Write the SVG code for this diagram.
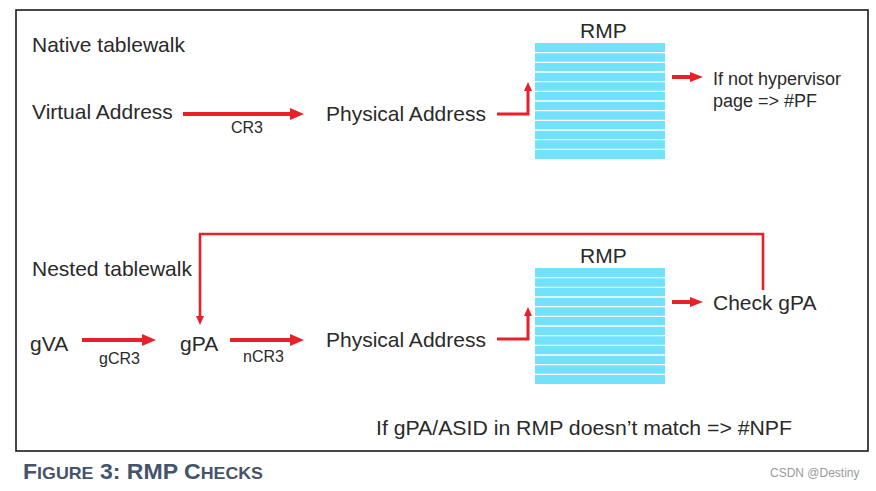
<svg xmlns="http://www.w3.org/2000/svg" width="876" height="491" viewBox="0 0 876 491">
<defs>
<marker id="hBig" markerUnits="userSpaceOnUse" markerWidth="14" markerHeight="12" refX="0" refY="6" orient="auto">
<path d="M0,0 L14,6 L0,12 z" fill="#e8202a"/>
</marker>
<marker id="hMid" markerUnits="userSpaceOnUse" markerWidth="13" markerHeight="10" refX="0" refY="5" orient="auto">
<path d="M0,0 L13,5 L0,10 z" fill="#e8202a"/>
</marker>
<marker id="hSmall" markerUnits="userSpaceOnUse" markerWidth="9" markerHeight="8" refX="0" refY="4" orient="auto">
<path d="M0,0 L9,4 L0,8 z" fill="#e8202a"/>
</marker>
</defs>
<style>
.t{font-family:"Liberation Sans",Arial,sans-serif;fill:#2a2a2a;font-size:21px}
.s{font-size:16px}
.m{font-size:18px}
.a{fill:none;stroke:#e8202a;stroke-width:4}
.e{fill:none;stroke:#e8202a;stroke-width:3}
.l{fill:none;stroke:#e8202a;stroke-width:2.6}
.rmp{fill:#71e1fc}
.sep{stroke:#ffffff;stroke-width:1.3}
</style>
<rect x="0" y="0" width="876" height="491" fill="#ffffff"/>
<rect x="16" y="10" width="852" height="441" fill="none" stroke="#1a1a1a" stroke-width="1.6"/>

<g id="native-label"><text class="t" x="32" y="52">Native tablewalk</text></g>
<g id="virtual-address"><text class="t" x="32" y="119">Virtual Address</text></g>
<g id="physical-address-1"><text class="t" x="326" y="121">Physical Address</text></g>
<g id="rmp-1">
<text class="t" x="580" y="38">RMP</text>
<rect class="rmp" x="535" y="43" width="130" height="116"/>
<g class="sep">
<line x1="535" y1="52.7" x2="665" y2="52.7"/><line x1="535" y1="62.3" x2="665" y2="62.3"/><line x1="535" y1="72" x2="665" y2="72"/><line x1="535" y1="81.7" x2="665" y2="81.7"/><line x1="535" y1="91.3" x2="665" y2="91.3"/><line x1="535" y1="101" x2="665" y2="101"/><line x1="535" y1="110.7" x2="665" y2="110.7"/><line x1="535" y1="120.3" x2="665" y2="120.3"/><line x1="535" y1="130" x2="665" y2="130"/><line x1="535" y1="139.7" x2="665" y2="139.7"/><line x1="535" y1="149.3" x2="665" y2="149.3"/>
</g>
</g>
<g id="pf-result"><text class="t m" x="713" y="85">If not hypervisor</text><text class="t m" x="713" y="107">page =&gt; #PF</text></g>

<g id="nested-label"><text class="t" x="32" y="276">Nested tablewalk</text></g>
<g id="gva"><text class="t" x="30" y="351">gVA</text></g>
<g id="gpa"><text class="t" x="180" y="351">gPA</text></g>
<g id="physical-address-2"><text class="t" x="326" y="347">Physical Address</text></g>
<g id="rmp-2">
<text class="t" x="580" y="263">RMP</text>
<rect class="rmp" x="535" y="268" width="130" height="116"/>
<g class="sep">
<line x1="535" y1="277.7" x2="665" y2="277.7"/><line x1="535" y1="287.3" x2="665" y2="287.3"/><line x1="535" y1="297" x2="665" y2="297"/><line x1="535" y1="306.7" x2="665" y2="306.7"/><line x1="535" y1="316.3" x2="665" y2="316.3"/><line x1="535" y1="326" x2="665" y2="326"/><line x1="535" y1="335.7" x2="665" y2="335.7"/><line x1="535" y1="345.3" x2="665" y2="345.3"/><line x1="535" y1="355" x2="665" y2="355"/><line x1="535" y1="364.7" x2="665" y2="364.7"/><line x1="535" y1="374.3" x2="665" y2="374.3"/>
</g>
</g>
<g id="check-gpa"><text class="t" x="713" y="310">Check gPA</text></g>
<g id="npf-note"><text class="t" x="376" y="435" textLength="416" lengthAdjust="spacingAndGlyphs">If gPA/ASID in RMP doesn’t match =&gt; #NPF</text></g>

<g id="connectors">
<path class="a" d="M183,114 H290" marker-end="url(#hBig)"/>
<text class="t s" x="231" y="133">CR3</text>
<path class="e" d="M497,114 H528 V91" marker-end="url(#hSmall)"/>
<path class="a" d="M672,77 H690" marker-end="url(#hMid)"/>

<path class="a" d="M82,340 H142" marker-end="url(#hBig)"/>
<text class="t s" x="99" y="364">gCR3</text>
<path class="a" d="M230,340 H290" marker-end="url(#hBig)"/>
<text class="t s" x="243" y="362">nCR3</text>
<path class="e" d="M497,339 H528 V316" marker-end="url(#hSmall)"/>
<path class="a" d="M672,302 H690" marker-end="url(#hMid)"/>
<path class="l" d="M763,290 V234 H200 V316" marker-end="url(#hSmall)"/>
</g>

<g id="caption">
<text x="23" y="479" font-family="'Liberation Sans',Arial,sans-serif" font-weight="bold" fill="#44546a" font-size="22px" textLength="240" lengthAdjust="spacingAndGlyphs">F<tspan font-size="17px">IGURE</tspan> 3: RMP C<tspan font-size="17px">HECKS</tspan></text>
</g>
<g id="watermark"><text x="770" y="477" font-family="'Liberation Sans',Arial,sans-serif" font-size="12px" fill="#9a9a9a">CSDN @Destiny</text></g>
</svg>
